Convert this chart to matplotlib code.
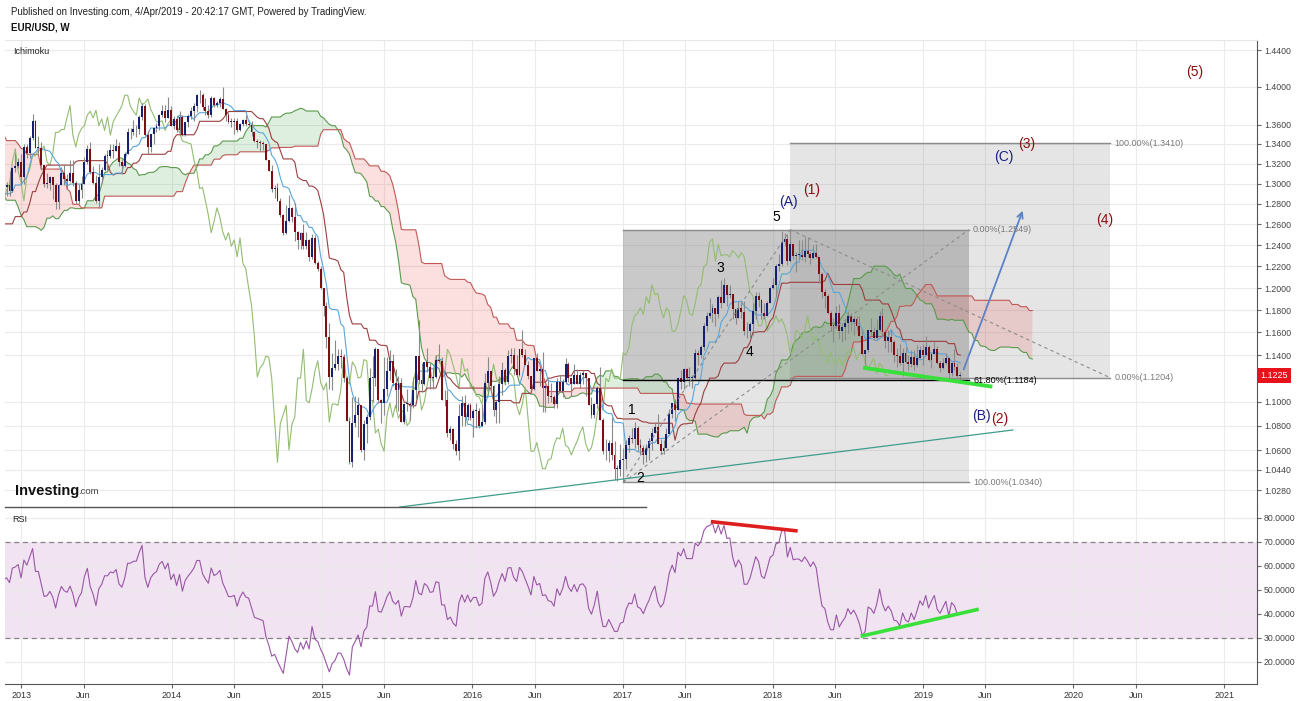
import numpy as np
import pandas as pd
import matplotlib
matplotlib.use("Agg")
import matplotlib.pyplot as plt
import matplotlib.dates as mdates
from matplotlib.ticker import FixedLocator, FixedFormatter, NullLocator
from matplotlib.patches import Rectangle

plt.rcParams['font.family'] = ['Liberation Sans', 'DejaVu Sans']

# ---------------- data: EUR/USD weekly bars (week starting Monday) ----------------
first_week = "2011-06-06"
first_open = 1.4640

closes = [
    # 2011
    1.4340, 1.4300, 1.4190, 1.4530,
    1.4230, 1.4150, 1.4390, 1.4400,
    1.4280, 1.4240, 1.4400, 1.4500, 1.4200,
    1.3650, 1.3800, 1.3500, 1.3390,
    1.3390, 1.3870, 1.3900, 1.4150, 1.3770,
    1.3750, 1.3520, 1.3240, 1.3450,
    1.3380, 1.3040, 1.3050, 1.2960,
    # 2012
    1.2720, 1.2680, 1.2930, 1.3130, 1.3150,
    1.3200, 1.3160, 1.3450, 1.3200,
    1.3120, 1.3180, 1.3270, 1.3340,
    1.3100, 1.3080, 1.3220, 1.3240, 1.3080,
    1.2920, 1.2780, 1.2510, 1.2400,
    1.2570, 1.2640, 1.2520, 1.2660,
    1.2290, 1.2250, 1.2150, 1.2320, 1.2390,
    1.2290, 1.2330, 1.2510, 1.2580,
    1.2810, 1.3120, 1.2980, 1.2860,
    1.3040, 1.2950, 1.3020, 1.2940, 1.2830,
    1.2710, 1.2740, 1.2970, 1.2990,
    1.2930, 1.3160, 1.3180, 1.3220, 1.3070,
    # 2013
    1.3370, 1.3310, 1.3460, 1.3640,
    1.3360, 1.3360, 1.3190, 1.3000,
    1.3010, 1.3070, 1.2990, 1.2820,
    1.2990, 1.3110, 1.3050, 1.3030, 1.3110,
    1.3010, 1.2830, 1.2940, 1.3000,
    1.3220, 1.3350, 1.3120, 1.3010,
    1.2830, 1.3070, 1.3140, 1.3280, 1.3280,
    1.3340, 1.3330, 1.3380, 1.3220,
    1.3180, 1.3300, 1.3520, 1.3520, 1.3550,
    1.3550, 1.3680, 1.3800, 1.3490,
    1.3370, 1.3500, 1.3560, 1.3590,
    1.3700, 1.3740, 1.3670, 1.3750, 1.3590,
    # 2014
    1.3660, 1.3540, 1.3680, 1.3490,
    1.3630, 1.3690, 1.3740, 1.3800,
    1.3910, 1.3910, 1.3790, 1.3740, 1.3700,
    1.3880, 1.3810, 1.3830, 1.3870,
    1.3760, 1.3700, 1.3630, 1.3630,
    1.3640, 1.3540, 1.3610, 1.3650, 1.3610,
    1.3600, 1.3520, 1.3430, 1.3420,
    1.3410, 1.3400, 1.3240, 1.3130,
    1.2950, 1.2960, 1.2830, 1.2690, 1.2520,
    1.2630, 1.2760, 1.2670, 1.2530,
    1.2450, 1.2520, 1.2390, 1.2450,
    1.2290, 1.2470, 1.2230, 1.2180, 1.2000,
    # 2015
    1.1840, 1.1560, 1.1210, 1.1290,
    1.1320, 1.1390, 1.1380, 1.1200,
    1.0840, 1.0500, 1.0820, 1.0890, 1.0970,
    1.0600, 1.0810, 1.0870, 1.1200,
    1.1200, 1.1450, 1.1010, 1.0990,
    1.1110, 1.1260, 1.1350, 1.1160, 1.1100,
    1.1160, 1.0830, 1.0980, 1.0980,
    1.0970, 1.1100, 1.1390, 1.1180, 1.1150,
    1.1340, 1.1300, 1.1200, 1.1210,
    1.1360, 1.1350, 1.1010, 1.1010,
    1.0740, 1.0770, 1.0650, 1.0590, 1.0880,
    1.0990, 1.0870, 1.0970, 1.0860,
    # 2016
    1.0920, 1.0920, 1.0800, 1.0830,
    1.1160, 1.1260, 1.1130, 1.0930, 1.1000,
    1.1150, 1.1270, 1.1170, 1.1390,
    1.1400, 1.1280, 1.1230, 1.1450,
    1.1400, 1.1310, 1.1220, 1.1110, 1.1370,
    1.1260, 1.1280, 1.1120, 1.1130,
    1.1050, 1.1040, 1.0980, 1.1170,
    1.1090, 1.1170, 1.1320, 1.1200, 1.1150,
    1.1230, 1.1150, 1.1230, 1.1240,
    1.1200, 1.0970, 1.0890, 1.0980, 1.1120,
    1.0850, 1.0590, 1.0590, 1.0660,
    1.0560, 1.0450, 1.0450, 1.0520,
    # 2017
    1.0530, 1.0640, 1.0700, 1.0690, 1.0780,
    1.0640, 1.0620, 1.0560, 1.0620,
    1.0670, 1.0740, 1.0790, 1.0650,
    1.0590, 1.0620, 1.0730, 1.0900,
    1.0990, 1.0930, 1.1200, 1.1170, 1.1280,
    1.1200, 1.1200, 1.1200, 1.1420,
    1.1400, 1.1470, 1.1660, 1.1750, 1.1770,
    1.1820, 1.1760, 1.1920, 1.1860,
    1.2030, 1.1940, 1.1950, 1.1810,
    1.1730, 1.1820, 1.1780, 1.1610, 1.1610,
    1.1670, 1.1790, 1.1930, 1.1890,
    1.1770, 1.1750, 1.1860, 1.2000,
    # 2018
    1.2030, 1.2200, 1.2220, 1.2430, 1.2460,
    1.2250, 1.2410, 1.2300, 1.2310,
    1.2310, 1.2290, 1.2350, 1.2320,
    1.2280, 1.2330, 1.2290, 1.2130, 1.1960,
    1.1930, 1.1770, 1.1660, 1.1660,
    1.1770, 1.1610, 1.1650, 1.1680,
    1.1750, 1.1690, 1.1720, 1.1660, 1.1570,
    1.1410, 1.1440, 1.1620, 1.1600,
    1.1550, 1.1620, 1.1750, 1.1600,
    1.1520, 1.1560, 1.1510, 1.1400, 1.1390,
    1.1330, 1.1420, 1.1340, 1.1320,
    1.1380, 1.1310, 1.1370, 1.1440, 1.1400,
    # 2019
    1.1470, 1.1360, 1.1410, 1.1450,
    1.1330, 1.1290, 1.1330, 1.1370,
    1.1240, 1.1330, 1.1300, 1.1220,
    1.1225,
]

highs = [
    # 2011
    1.4700, 1.4450, 1.4450, 1.4580,
    1.4580, 1.4250, 1.4450, 1.4440,
    1.4450, 1.4370, 1.4480, 1.4550, 1.4550,
    1.4200, 1.3900, 1.3850, 1.3700,
    1.3500, 1.3900, 1.3950, 1.4250, 1.4150,
    1.3850, 1.3800, 1.3550, 1.3550,
    1.3550, 1.3400, 1.3140, 1.3100,
    # 2012
    1.3080, 1.2880, 1.3000, 1.3170, 1.3230,
    1.3320, 1.3250, 1.3480, 1.3480,
    1.3290, 1.3200, 1.3300, 1.3380,
    1.3390, 1.3190, 1.3230, 1.3270, 1.3280,
    1.3090, 1.2950, 1.2820, 1.2530,
    1.2620, 1.2670, 1.2750, 1.2700,
    1.2700, 1.2350, 1.2350, 1.2390, 1.2390,
    1.2440, 1.2350, 1.2560, 1.2620,
    1.2820, 1.3170, 1.3170, 1.3000,
    1.3060, 1.3060, 1.3140, 1.3050, 1.3010,
    1.2850, 1.2780, 1.2990, 1.3020,
    1.3130, 1.3170, 1.3310, 1.3260, 1.3300,
    # 2013
    1.3400, 1.3400, 1.3480, 1.3710,
    1.3650, 1.3480, 1.3420, 1.3170,
    1.3110, 1.3080, 1.3010, 1.3010,
    1.3000, 1.3170, 1.3200, 1.3100, 1.3240,
    1.3240, 1.3030, 1.3000, 1.3080,
    1.3270, 1.3390, 1.3420, 1.3180,
    1.3090, 1.3200, 1.3170, 1.3300, 1.3340,
    1.3400, 1.3400, 1.3450, 1.3420,
    1.3250, 1.3320, 1.3570, 1.3570, 1.3650,
    1.3600, 1.3700, 1.3830, 1.3820,
    1.3530, 1.3500, 1.3540, 1.3620,
    1.3710, 1.3810, 1.3810, 1.3890, 1.3800,
    # 2014
    1.3690, 1.3700, 1.3740, 1.3700,
    1.3630, 1.3710, 1.3780, 1.3830,
    1.3920, 1.3970, 1.3930, 1.3880, 1.3810,
    1.3900, 1.3890, 1.3850, 1.3890,
    1.3995, 1.3770, 1.3730, 1.3670,
    1.3670, 1.3670, 1.3620, 1.3660, 1.3700,
    1.3650, 1.3640, 1.3530, 1.3450,
    1.3440, 1.3430, 1.3380, 1.3220,
    1.3190, 1.2990, 1.3010, 1.2860, 1.2700,
    1.2790, 1.2890, 1.2770, 1.2810,
    1.2540, 1.2530, 1.2600, 1.2530,
    1.2460, 1.2510, 1.2500, 1.2250, 1.2200,
    # 2015
    1.1990, 1.1870, 1.1680, 1.1420,
    1.1530, 1.1450, 1.1450, 1.1410,
    1.1220, 1.0870, 1.1040, 1.1050, 1.1040,
    1.0970, 1.0850, 1.0900, 1.1290,
    1.1390, 1.1470, 1.1450, 1.1020,
    1.1380, 1.1380, 1.1440, 1.1410, 1.1280,
    1.1220, 1.1200, 1.0990, 1.1110,
    1.1000, 1.1210, 1.1390, 1.1710, 1.1330,
    1.1340, 1.1460, 1.1330, 1.1290,
    1.1400, 1.1500, 1.1380, 1.1100,
    1.1100, 1.0800, 1.0780, 1.0680, 1.0980,
    1.1050, 1.1060, 1.0990, 1.0990,
    # 2016
    1.0940, 1.0990, 1.0950, 1.0980,
    1.1240, 1.1380, 1.1180, 1.1140, 1.1010,
    1.1220, 1.1340, 1.1290, 1.1440,
    1.1460, 1.1460, 1.1400, 1.1450,
    1.1620, 1.1450, 1.1350, 1.1220, 1.1370,
    1.1420, 1.1300, 1.1430, 1.1140,
    1.1180, 1.1160, 1.1060, 1.1200,
    1.1230, 1.1190, 1.1370, 1.1340, 1.1190,
    1.1320, 1.1280, 1.1250, 1.1270,
    1.1240, 1.1140, 1.1040, 1.0990, 1.1130,
    1.1300, 1.0860, 1.0690, 1.0680,
    1.0870, 1.0670, 1.0480, 1.0650,
    # 2017
    1.0620, 1.0680, 1.0720, 1.0780, 1.0830,
    1.0800, 1.0690, 1.0640, 1.0650,
    1.0700, 1.0780, 1.0820, 1.0900,
    1.0690, 1.0680, 1.0780, 1.0940,
    1.0990, 1.1020, 1.1210, 1.1270, 1.1290,
    1.1290, 1.1300, 1.1230, 1.1450,
    1.1440, 1.1490, 1.1680, 1.1780, 1.1910,
    1.1850, 1.1800, 1.1940, 1.2070,
    1.2090, 1.2020, 1.2030, 1.1950,
    1.1800, 1.1880, 1.1860, 1.1880, 1.1690,
    1.1690, 1.1860, 1.1960, 1.1960,
    1.1900, 1.1860, 1.1880, 1.2010,
    # 2018
    1.2090, 1.2220, 1.2320, 1.2540, 1.2520,
    1.2510, 1.2556, 1.2410, 1.2340,
    1.2450, 1.2450, 1.2480, 1.2480,
    1.2340, 1.2400, 1.2410, 1.2290, 1.2150,
    1.1990, 1.1950, 1.1790, 1.1730,
    1.1840, 1.1850, 1.1680, 1.1720,
    1.1790, 1.1770, 1.1750, 1.1750, 1.1750,
    1.1630, 1.1440, 1.1620, 1.1730,
    1.1650, 1.1720, 1.1790, 1.1820,
    1.1630, 1.1620, 1.1620, 1.1530, 1.1460,
    1.1500, 1.1460, 1.1470, 1.1400,
    1.1440, 1.1440, 1.1490, 1.1480, 1.1500,
    # 2019
    1.1570, 1.1490, 1.1420, 1.1510,
    1.1480, 1.1350, 1.1370, 1.1420,
    1.1370, 1.1340, 1.1450, 1.1330,
    1.1250,
]

lows = [
    # 2011
    1.4330, 1.4070, 1.4100, 1.4170,
    1.4220, 1.3840, 1.4050, 1.4270,
    1.4050, 1.4050, 1.4240, 1.4320, 1.4100,
    1.3650, 1.3500, 1.3400, 1.3350,
    1.3150, 1.3360, 1.3650, 1.3800, 1.3600,
    1.3480, 1.3420, 1.3250, 1.3210,
    1.3250, 1.2950, 1.3000, 1.2850,
    # 2012
    1.2680, 1.2620, 1.2660, 1.2900, 1.2980,
    1.3040, 1.2980, 1.3120, 1.3130,
    1.3050, 1.2970, 1.3080, 1.3250,
    1.3030, 1.3000, 1.3030, 1.3110, 1.3050,
    1.2900, 1.2640, 1.2500, 1.2290,
    1.2400, 1.2450, 1.2450, 1.2400,
    1.2250, 1.2160, 1.2140, 1.2040, 1.2130,
    1.2240, 1.2130, 1.2300, 1.2450,
    1.2560, 1.2750, 1.2900, 1.2800,
    1.2800, 1.2800, 1.2900, 1.2880, 1.2820,
    1.2660, 1.2660, 1.2730, 1.2880,
    1.2880, 1.2920, 1.3120, 1.3160, 1.3000,
    # 2013
    1.3000, 1.3260, 1.3260, 1.3440,
    1.3370, 1.3300, 1.3140, 1.2970,
    1.2960, 1.2940, 1.2850, 1.2750,
    1.2750, 1.2990, 1.2990, 1.2950, 1.3020,
    1.2980, 1.2800, 1.2800, 1.2860,
    1.3000, 1.3200, 1.3100, 1.3000,
    1.2810, 1.2760, 1.3010, 1.3130, 1.3140,
    1.3260, 1.3260, 1.3330, 1.3180,
    1.3100, 1.3170, 1.3300, 1.3450, 1.3490,
    1.3470, 1.3500, 1.3650, 1.3480,
    1.3300, 1.3320, 1.3400, 1.3520,
    1.3540, 1.3680, 1.3630, 1.3670, 1.3590,
    # 2014
    1.3550, 1.3520, 1.3510, 1.3480,
    1.3480, 1.3580, 1.3660, 1.3640,
    1.3730, 1.3830, 1.3750, 1.3700, 1.3670,
    1.3680, 1.3790, 1.3790, 1.3790,
    1.3760, 1.3640, 1.3620, 1.3580,
    1.3500, 1.3520, 1.3530, 1.3590, 1.3590,
    1.3580, 1.3480, 1.3420, 1.3360,
    1.3330, 1.3340, 1.3240, 1.3130,
    1.2920, 1.2860, 1.2830, 1.2670, 1.2500,
    1.2510, 1.2620, 1.2620, 1.2440,
    1.2360, 1.2360, 1.2360, 1.2360,
    1.2250, 1.2270, 1.2220, 1.2160, 1.1990,
    # 2015
    1.1750, 1.1460, 1.1110, 1.1100,
    1.1270, 1.1270, 1.1290, 1.1170,
    1.0840, 1.0490, 1.0460, 1.0790, 1.0710,
    1.0580, 1.0520, 1.0660, 1.0850,
    1.1000, 1.1130, 1.0990, 1.0820,
    1.0890, 1.1050, 1.1180, 1.1130, 1.0950,
    1.0920, 1.0830, 1.0810, 1.0920,
    1.0850, 1.0950, 1.1020, 1.1150, 1.1080,
    1.1140, 1.1250, 1.1110, 1.1110,
    1.1200, 1.1330, 1.1010, 1.0960,
    1.0710, 1.0680, 1.0610, 1.0560, 1.0520,
    1.0800, 1.0800, 1.0850, 1.0850,
    # 2016
    1.0710, 1.0780, 1.0780, 1.0800,
    1.0810, 1.1100, 1.1070, 1.0880, 1.0820,
    1.0820, 1.1060, 1.1140, 1.1150,
    1.1330, 1.1230, 1.1220, 1.1220,
    1.1380, 1.1310, 1.1190, 1.1100, 1.1100,
    1.1260, 1.1130, 1.0910, 1.0910,
    1.0990, 1.1000, 1.0950, 1.0950,
    1.1080, 1.1040, 1.1150, 1.1170, 1.1050,
    1.1150, 1.1150, 1.1120, 1.1150,
    1.1050, 1.0980, 1.0860, 1.0860, 1.0950,
    1.0850, 1.0570, 1.0520, 1.0500,
    1.0520, 1.0360, 1.0350, 1.0390,
    # 2017
    1.0340, 1.0450, 1.0580, 1.0660, 1.0620,
    1.0590, 1.0560, 1.0490, 1.0500,
    1.0520, 1.0600, 1.0740, 1.0650,
    1.0570, 1.0570, 1.0640, 1.0730,
    1.0860, 1.0840, 1.0930, 1.1110, 1.1110,
    1.1190, 1.1130, 1.1120, 1.1190,
    1.1310, 1.1370, 1.1440, 1.1610, 1.1730,
    1.1690, 1.1660, 1.1730, 1.1820,
    1.1870, 1.1840, 1.1910, 1.1720,
    1.1670, 1.1730, 1.1730, 1.1580, 1.1550,
    1.1550, 1.1580, 1.1720, 1.1830,
    1.1720, 1.1720, 1.1770, 1.1860,
    # 2018
    1.1990, 1.1920, 1.2160, 1.2200, 1.2390,
    1.2210, 1.2240, 1.2270, 1.2150,
    1.2270, 1.2260, 1.2240, 1.2290,
    1.2220, 1.2270, 1.2280, 1.2050, 1.1910,
    1.1820, 1.1760, 1.1610, 1.1510,
    1.1640, 1.1540, 1.1510, 1.1530,
    1.1590, 1.1610, 1.1580, 1.1620, 1.1570,
    1.1410, 1.1300, 1.1430, 1.1580,
    1.1530, 1.1530, 1.1610, 1.1570,
    1.1460, 1.1430, 1.1430, 1.1340, 1.1300,
    1.1310, 1.1220, 1.1330, 1.1270,
    1.1300, 1.1270, 1.1300, 1.1380, 1.1310,
    # 2019
    1.1400, 1.1350, 1.1290, 1.1410,
    1.1320, 1.1250, 1.1280, 1.1320,
    1.1180, 1.1220, 1.1270, 1.1210,
    1.1180,
]

price_ticks = [1.4400, 1.4000, 1.3600, 1.3400, 1.3200, 1.3000, 1.2800, 1.2600,
               1.2400, 1.2200, 1.2000, 1.1800, 1.1600, 1.1400, 1.1000, 1.0800,
               1.0600, 1.0440, 1.0280]
rsi_ticks = [80, 70, 60, 50, 40, 30, 20]
last_price = 1.1225

# fib tools (dates, prices)
retr_start, retr_end = "2017-01-02", "2019-04-22"
retr_levels = {"0.00%": 1.2549, "61.80%": 1.1184, "100.00%": 1.0340}
ext_start, ext_end = "2018-02-12", "2020-03-30"
ext_levels = {"0.00%": 1.1204, "100.00%": 1.3410}

# ---------------- derived series ----------------
n = len(closes)
C = np.array(closes)
O = np.array([first_open] + closes[:-1])
H = np.maximum.reduce([np.array(highs), O, C])
L = np.minimum.reduce([np.array(lows), O, C])
shift = 25
all_dates = pd.date_range(first_week, periods=n + shift + 1, freq="W-MON")
dates = all_dates[:n]
x = mdates.date2num(dates)
xall = mdates.date2num(all_dates)

hs, ls = pd.Series(H), pd.Series(L)
tenkan = (hs.rolling(9).max() + ls.rolling(9).min()) / 2
kijun = (hs.rolling(26).max() + ls.rolling(26).min()) / 2
spanA = ((tenkan + kijun) / 2).values
spanB = ((hs.rolling(52).max() + ls.rolling(52).min()) / 2).values
xs_span = xall[shift:shift + n]

delta = pd.Series(C).diff()
gain = delta.clip(lower=0)
loss = -delta.clip(upper=0)
ag = gain.ewm(alpha=1 / 14, adjust=False).mean()
al = loss.ewm(alpha=1 / 14, adjust=False).mean()
rsi = (100 - 100 / (1 + ag / al)).values

def d(s):
    return mdates.date2num(pd.Timestamp(s))

# ---------------- figure ----------------
W, Hpx = 1298, 701
fig = plt.figure(figsize=(W / 100, Hpx / 100), dpi=100)
fig.patch.set_facecolor("white")

def fy(p):
    return 1 - p / Hpx

left, right = 5 / W, 1257 / W
ax = fig.add_axes([left, fy(507), right - left, fy(40) - fy(507)])
axr = fig.add_axes([left, fy(684), right - left, fy(507) - fy(684)], sharex=ax)

xlim = (d("2012-11-22"), d("2021-03-22"))
grid_c = "#ebebeb"

# ticks on x
xt, xl = [], []
for yr in range(2013, 2022):
    xt.append(d(f"{yr}-01-01")); xl.append(str(yr))
    if yr < 2021:
        xt.append(d(f"{yr}-06-01")); xl.append("Jun")

for a in (ax, axr):
    a.set_facecolor("white")
    for s in ("left", "top"):
        a.spines[s].set_visible(False)
    a.spines["right"].set_color("#555555")
    a.yaxis.tick_right()
    a.tick_params(axis="y", direction="out", length=3, width=0.8, color="#666666",
                  labelsize=6.3, labelcolor="#444444", pad=2)
    a.set_xticks(xt)
    a.grid(True, color=grid_c, lw=0.8, zorder=0)
    a.set_axisbelow(True)

ax.spines["bottom"].set_visible(False)
ax.spines["top"].set_visible(True)
ax.spines["top"].set_color("#e6e6e6")
ax.tick_params(axis="x", length=0, labelbottom=False)
axr.spines["bottom"].set_color("#555555")
axr.set_xticklabels(xl)
axr.tick_params(axis="x", direction="out", length=3, width=0.8, color="#666666",
                labelsize=6.5, labelcolor="#333333", pad=2)
ax.set_xlim(*xlim)

# main price axis (log)
ax.set_yscale("log")
ax.set_ylim(1.01474, 1.4511)
ax.yaxis.set_major_locator(FixedLocator(price_ticks))
ax.yaxis.set_major_formatter(FixedFormatter([f"{t:.4f}" for t in price_ticks]))
ax.yaxis.set_minor_locator(NullLocator())

# fib boxes
gray = (0.5, 0.5, 0.5)
r0, r1 = d(retr_start), d(retr_end)
e0, e1 = d(ext_start), d(ext_end)
ax.add_patch(Rectangle((r0, retr_levels["61.80%"]), r1 - r0,
                       retr_levels["0.00%"] - retr_levels["61.80%"],
                       facecolor=gray, alpha=0.42, lw=0, zorder=1))
ax.add_patch(Rectangle((r0, retr_levels["100.00%"]), r1 - r0,
                       retr_levels["61.80%"] - retr_levels["100.00%"],
                       facecolor=gray, alpha=0.2, lw=0, zorder=1))
ax.add_patch(Rectangle((e0, ext_levels["0.00%"]), e1 - e0,
                       ext_levels["100.00%"] - ext_levels["0.00%"],
                       facecolor=gray, alpha=0.2, lw=0, zorder=1))
for lab, v in retr_levels.items():
    col = "black" if lab == "61.80%" else "#8a8a8a"
    ax.plot([r0, r1], [v, v], color=col, lw=1.0, zorder=6)
    ax.annotate(f"{lab}({v:.4f})", (r1, v), xytext=(3, 0), textcoords="offset points",
                va="center", ha="left", fontsize=6.5,
                color="black" if lab == "61.80%" else "#7a7a7a", zorder=9)
for lab, v in ext_levels.items():
    ax.plot([e0, e1], [v, v], color="#8a8a8a", lw=1.0, zorder=6)
    ax.annotate(f"{lab}({v:.4f})", (e1, v), xytext=(3, 0), textcoords="offset points",
                va="center", ha="left", fontsize=6.5, color="#7a7a7a", zorder=9)
dash_kw = dict(color="#8c8c8c", lw=0.8, ls=(0, (3, 3)), zorder=6)
ax.plot([r0, r1], [retr_levels["100.00%"], retr_levels["0.00%"]], **dash_kw)
ax.plot([r0, e0], [retr_levels["100.00%"], retr_levels["0.00%"]], **dash_kw)
ax.plot([e0, e1], [retr_levels["0.00%"], ext_levels["0.00%"]], **dash_kw)

# ichimoku cloud
ax.fill_between(xs_span, spanA, spanB, where=spanA >= spanB, interpolate=True,
                color="#2e9a2e", alpha=0.15, lw=0, zorder=2)
ax.fill_between(xs_span, spanA, spanB, where=spanA < spanB, interpolate=True,
                color="#f03a3a", alpha=0.16, lw=0, zorder=2)
ax.plot(xs_span, spanA, color="#5a9a4c", lw=0.8, zorder=3)
ax.plot(xs_span, spanB, color="#bf5a55", lw=0.8, zorder=3)
ax.plot(x[:n - shift], C[shift:], color="#93bd72", lw=0.8, zorder=3)
ax.plot(x, kijun, color="#9b3f3f", lw=0.8, zorder=3)
ax.plot(x, tenkan, color="#5aa6dc", lw=0.8, zorder=3)

# candles
up = C >= O
ax.vlines(x, L, H, color="#8a8a8a", lw=0.8, zorder=4)
body_lo = np.minimum(O, C)
body_h = np.maximum(np.abs(C - O), 0.0006)
ax.bar(x, body_h, bottom=body_lo, width=4.6,
       color=np.where(up, "#15216e", "#7d0f14"), lw=0, zorder=5)

# trend lines / annotations
ax.plot([d("2015-07-09"), d("2019-08-07")], [1.0147, 1.0764], color="#3f9c8c", lw=0.9, zorder=6)
ax.plot([d("2018-08-08"), d("2019-06-18")], [1.1290, 1.1127], color="#39e03a", lw=2.8,
        solid_capstyle="butt", zorder=7)
ax.annotate("", xy=(d("2019-09-02"), 1.2758), xytext=(d("2019-04-07"), 1.1253),
            arrowprops=dict(arrowstyle="->", color="#5b82c6", lw=1.3, mutation_scale=10),
            zorder=7)

labels = [
    ("1", "2017-01-23", 1.0930, "black"),
    ("2", "2017-02-13", 1.0375, "black"),
    ("3", "2017-08-25", 1.2185, "black"),
    ("4", "2017-11-06", 1.1426, "black"),
    ("5", "2018-01-08", 1.2671, "black"),
    ("(A)", "2018-02-07", 1.2817, "#1b1f80"),
    ("(1)", "2018-04-06", 1.2936, "#8b0f0f"),
    ("(C)", "2019-07-15", 1.3267, "#1b1f80"),
    ("(3)", "2019-09-09", 1.3400, "#8b0f0f"),
    ("(4)", "2020-03-17", 1.2641, "#8b0f0f"),
    ("(5)", "2020-10-21", 1.4159, "#8b0f0f"),
    ("(B)", "2019-05-23", 1.0880, "#1b1f80"),
    ("(2)", "2019-07-06", 1.0855, "#8b0f0f"),
]
for t, dt, p, c in labels:
    ax.text(d(dt), p, t, color=c, fontsize=10, ha="center", va="center", zorder=9)

# last price tag
ax.text(1.003, last_price, f"{last_price:.4f}", transform=ax.get_yaxis_transform(),
        fontsize=6.5, color="white", va="center", ha="left", zorder=10,
        bbox=dict(boxstyle="square,pad=0.35", facecolor="#e8121b", edgecolor="none"),
        clip_on=False)

# RSI panel
axr.set_ylim(10.83, 84.58)
axr.yaxis.set_major_locator(FixedLocator(rsi_ticks))
axr.yaxis.set_major_formatter(FixedFormatter([f"{t:.4f}" for t in rsi_ticks]))
axr.axhspan(30, 70, color="#f1e3f1", lw=0, zorder=0.5)
for v in (70, 30):
    axr.axhline(v, color="#8a7f8a", lw=0.9, ls=(0, (4, 3)), zorder=1)
axr.plot(x, rsi, color="#9a56a6", lw=0.8, zorder=3)
axr.plot([d("2017-08-03"), d("2018-03-02")], [78.5, 74.6], color="#de1f1f", lw=2.6,
         solid_capstyle="butt", zorder=4)
axr.plot([d("2018-08-02"), d("2019-05-16")], [30.7, 42.0], color="#39e03a", lw=2.6,
         solid_capstyle="butt", zorder=4)

# separator and texts
fig.add_artist(plt.Line2D([5 / W, 646 / W], [fy(507), fy(507)], color="#555555", lw=1.0))
fig.text(11 / W, fy(12), "Published on Investing.com, 4/Apr/2019 - 20:42:17 GMT, Powered by TradingView.",
         fontsize=7, color="#222222", va="center", ha="left")
fig.text(11 / W, fy(28), "EUR/USD, W", fontsize=7, fontweight="bold", color="#111111",
         va="center", ha="left")
fig.text(13 / W, fy(51), "Ichimoku", fontsize=6.5, color="#222222", va="center", ha="left")
fig.text(12 / W, fy(519), "RSI", fontsize=6.5, color="#222222", va="center", ha="left")
fig.text(15 / W, fy(491), "Investing", fontsize=10.5, fontweight="bold", color="#111111",
         va="center", ha="left")
fig.text(78 / W, fy(492), ".com", fontsize=6.8, color="#444444", va="center", ha="left")

fig.savefig("out.png", dpi=100, facecolor="white")
